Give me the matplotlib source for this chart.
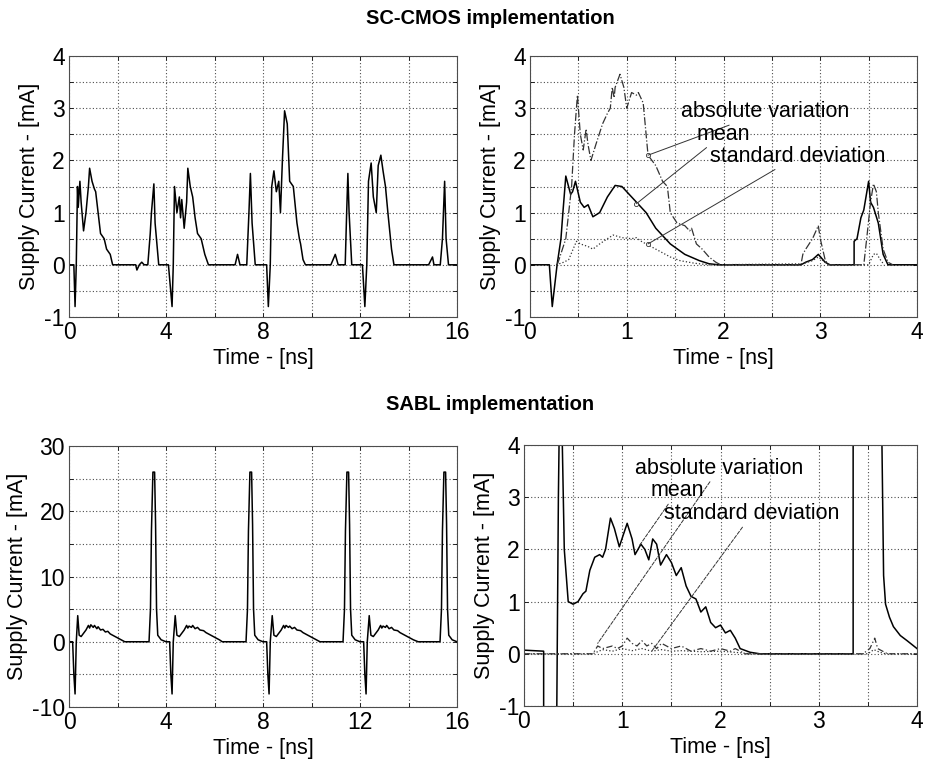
import matplotlib
matplotlib.use("Agg")
import matplotlib.pyplot as plt
from matplotlib.ticker import MultipleLocator

plt.rcParams["font.family"] = ["Liberation Sans", "DejaVu Sans"]
plt.rcParams["axes.unicode_minus"] = False

# --- SC-CMOS, 16 ns trace -------------------------------------------------
sc_t = [0.0, 0.2, 0.25, 0.3, 0.35, 0.38, 0.45, 0.5, 0.6, 0.7, 0.8, 0.85, 0.95, 1.05,
        1.1, 1.2, 1.3, 1.45, 1.55, 1.7, 1.8, 2.75, 2.8, 2.9, 3.0, 3.1, 3.25, 3.35,
        3.4, 3.5, 3.55, 3.7, 4.1, 4.25, 4.3, 4.35, 4.45, 4.55, 4.6, 4.65, 4.75, 4.85,
        4.9, 5.0, 5.1, 5.2, 5.3, 5.45, 5.6, 5.75, 6.85, 6.95, 7.05, 7.33, 7.42, 7.48,
        7.55, 7.68, 8.15, 8.22, 8.3, 8.36, 8.45, 8.55, 8.65, 8.72, 8.8, 8.89, 9.0,
        9.1, 9.25, 9.4, 9.5, 9.55, 9.65, 9.75, 10.8, 10.98, 11.1, 11.39, 11.45, 11.5,
        11.55, 11.66, 12.1, 12.2, 12.28, 12.35, 12.46, 12.55, 12.67, 12.75, 12.86,
        12.95, 13.05, 13.15, 13.3, 13.4, 14.83, 14.99, 15.05, 15.31, 15.4, 15.49,
        15.55, 15.65, 16.0]
sc_i = [0.0, 0.0, -0.8, 0.0, 1.5, 1.1, 1.6, 1.2, 0.65, 1.0, 1.5, 1.85, 1.6, 1.45,
        1.4, 1.0, 0.6, 0.5, 0.3, 0.2, 0.0, 0.0, -0.1, 0.0, 0.05, 0.0, 0.0, 0.6,
        1.0, 1.55, 0.8, 0.0, 0.0, -0.8, 0.0, 1.5, 1.0, 1.3, 0.9, 1.25, 0.7, 1.2,
        1.85, 1.5, 1.3, 0.9, 0.6, 0.5, 0.2, 0.0, 0.0, 0.2, 0.0, 0.0, 1.0, 1.75,
        0.8, 0.0, 0.0, -0.8, 0.0, 1.5, 1.8, 1.4, 1.6, 1.0, 2.0, 2.95, 2.7,
        1.6, 1.5, 0.8, 0.5, 0.4, 0.1, 0.0, 0.0, 0.2, 0.0, 0.0, 1.0, 1.75,
        1.0, 0.0, 0.0, -0.8, 0.0, 1.6, 1.95, 1.3, 1.0, 1.9, 2.1,
        1.8, 1.5, 1.0, 0.3, 0.0, 0.0, 0.15, 0.0, 0.0, 0.5, 1.6,
        0.5, 0.0, 0.0]

# --- SC-CMOS statistics, 4 ns ---------------------------------------------
sc_mean_t = [0.0, 0.2, 0.23, 0.28, 0.32, 0.34, 0.37, 0.42, 0.44, 0.47, 0.52, 0.56,
             0.6, 0.65, 0.72, 0.8, 0.88, 0.95, 1.05, 1.2, 1.3, 1.45, 1.6, 1.75,
             1.85, 1.95, 2.8, 2.85, 2.92, 2.98, 3.05, 3.1, 3.35, 3.35, 3.38, 3.42,
             3.45, 3.5, 3.52, 3.55, 3.6, 3.65, 3.7, 4.0]
sc_mean_i = [0.0, 0.0, -0.8, 0.0, 0.5, 1.0, 1.7, 1.35, 1.4, 1.6, 1.2, 1.1,
             1.15, 0.92, 1.0, 1.3, 1.52, 1.5, 1.3, 1.0, 0.7, 0.4, 0.2, 0.08,
             0.02, 0.0, 0.0, 0.05, 0.1, 0.2, 0.05, 0.0, 0.0, 0.45, 0.5, 0.9,
             1.05, 1.6, 1.2, 1.1, 0.8, 0.2, 0.0, 0.0]
sc_absvar_t = [0.28, 0.3, 0.37, 0.43, 0.46, 0.49, 0.52, 0.55, 0.58, 0.6, 0.63, 0.68,
               0.75, 0.8, 0.83, 0.85, 0.87, 0.88, 0.93, 0.97, 1.0, 1.05, 1.1, 1.12,
               1.17, 1.22, 1.3, 1.37, 1.42, 1.45, 1.52, 1.6, 1.65, 1.67, 1.72, 1.78,
               1.85, 1.92, 1.97, 2.8, 2.82, 2.85, 2.92, 2.98, 3.0, 3.05, 3.08, 3.45,
               3.48, 3.52, 3.55, 3.58, 3.6, 3.65, 3.7, 3.75]
sc_absvar_i = [0.0, 0.1, 0.5, 1.5, 2.5, 3.25, 2.5, 2.2, 2.6, 2.3, 2.0, 2.3,
               2.7, 2.9, 3.0, 3.4, 3.2, 3.4, 3.65, 3.4, 3.0, 3.3, 3.25, 3.3,
               3.1, 2.1, 1.9, 1.6, 1.5, 1.0, 0.8, 0.75, 0.65, 0.7, 0.4, 0.3,
               0.15, 0.05, 0.0, 0.0, 0.2, 0.3, 0.5, 0.75, 0.5, 0.1, 0.0, 0.0,
               0.5, 1.2, 1.55, 1.4, 1.0, 0.3, 0.05, 0.0]
sc_std_t = [0.27, 0.35, 0.4, 0.48, 0.52, 0.6, 0.65, 0.72, 0.8, 0.86, 0.95, 1.05,
            1.1, 1.15, 1.25, 1.35, 1.45, 1.55, 1.7, 1.85, 2.82, 2.92, 2.98, 3.05,
            3.1, 3.5, 3.55, 3.58, 3.62, 3.66]
sc_std_i = [0.0, 0.05, 0.1, 0.45, 0.4, 0.35, 0.3, 0.4, 0.5, 0.57, 0.52, 0.5,
            0.52, 0.45, 0.35, 0.25, 0.15, 0.08, 0.03, 0.0, 0.02, 0.08, 0.15, 0.05,
            0.0, 0.0, 0.2, 0.22, 0.1, 0.0]

# --- SABL, 16 ns trace ----------------------------------------------------
sabl_t = [0.0, 0.15, 0.2, 0.25, 0.3, 0.36, 0.42, 0.5, 0.6, 0.7, 0.8, 0.85, 0.9,
          1.0, 1.05, 1.15, 1.2, 1.3, 1.4, 1.5, 1.6, 1.7, 1.85, 2.0, 2.15, 2.3,
          3.3, 3.36, 3.4, 3.46, 3.53, 3.57, 3.61, 3.66, 3.8, 4.0,
          4.15, 4.2, 4.25, 4.3, 4.38, 4.45, 4.55, 4.65, 4.75, 4.85, 4.9, 4.95, 5.05,
          5.1, 5.2, 5.3, 5.4, 5.55, 5.65, 5.75, 5.9, 6.05, 6.2, 6.32,
          7.3, 7.36, 7.4, 7.46, 7.53, 7.57, 7.61, 7.66, 7.8, 8.0,
          8.15, 8.2, 8.25, 8.3, 8.38, 8.45, 8.55, 8.65, 8.75, 8.85, 8.9, 8.95, 9.05,
          9.1, 9.2, 9.3, 9.4, 9.55, 9.65, 9.75, 9.9, 10.05, 10.2, 10.35,
          11.3, 11.36, 11.4, 11.46, 11.53, 11.57, 11.61, 11.66, 11.8, 12.0,
          12.15, 12.2, 12.25, 12.3, 12.38, 12.45, 12.55, 12.65, 12.75, 12.85, 12.9,
          12.95, 13.05, 13.1, 13.2, 13.3, 13.4, 13.55, 13.65, 13.75, 13.9, 14.05,
          14.2, 14.4, 15.3, 15.36, 15.4, 15.46, 15.53, 15.57, 15.61, 15.66, 15.8, 16.0]
sabl_i = [0.0, 0.0, -5.0, -8.0, 0.0, 4.0, 1.0, 0.8, 1.3, 1.8, 2.5, 2.1, 2.6,
          2.2, 2.5, 2.0, 2.3, 1.8, 1.9, 1.5, 1.6, 1.2, 0.9, 0.6, 0.3, 0.0,
          0.0, 5.0, 17.0, 26.0, 26.0, 18.0, 5.0, 1.0, 0.3, 0.0,
          0.0, -5.0, -8.0, 0.0, 4.0, 1.0, 0.8, 1.3, 1.8, 2.5, 2.1, 2.4, 2.2,
          2.5, 2.0, 2.2, 1.8, 1.7, 1.4, 1.2, 0.9, 0.6, 0.3, 0.0,
          0.0, 5.0, 17.0, 26.0, 26.0, 18.0, 5.0, 1.0, 0.3, 0.0,
          0.0, -5.0, -8.0, 0.0, 4.0, 1.0, 0.8, 1.3, 1.8, 2.5, 2.1, 2.5, 2.2,
          2.4, 2.0, 2.2, 1.8, 1.7, 1.4, 1.2, 0.9, 0.6, 0.3, 0.0,
          0.0, 5.0, 17.0, 26.0, 26.0, 18.0, 5.0, 1.0, 0.3, 0.0,
          0.0, -5.0, -8.0, 0.0, 4.0, 1.0, 0.8, 1.3, 1.8, 2.5, 2.1,
          2.4, 2.2, 2.5, 2.0, 2.2, 1.8, 1.7, 1.4, 1.2, 0.9, 0.6,
          0.3, 0.0, 0.0, 5.0, 17.0, 26.0, 26.0, 18.0, 5.0, 1.0, 0.3, 0.0]

# --- SABL statistics, 4 ns ------------------------------------------------
sabl_mean_t = [0.0, 0.2, 0.2, 0.33, 0.35, 0.37, 0.41, 0.45, 0.5, 0.55, 0.6, 0.63,
               0.67, 0.72, 0.77, 0.8, 0.83, 0.88, 0.92, 0.97, 1.05, 1.1, 1.13, 1.19,
               1.23, 1.27, 1.31, 1.35, 1.39, 1.45, 1.5, 1.55, 1.6, 1.65, 1.7, 1.75,
               1.8, 1.85, 1.9, 1.95, 2.0, 2.05, 2.1, 2.15, 2.2, 2.3, 2.4, 3.35,
               3.35, 3.63, 3.66, 3.68, 3.72, 3.76, 3.83, 3.9, 4.0]
sabl_mean_i = [0.07, 0.05, -2.0, -2.0, 3.0, 6.0, 2.0, 1.0, 0.95, 1.0, 1.15, 1.2,
               1.6, 1.85, 1.9, 1.85, 2.0, 2.6, 2.4, 2.05, 2.5, 2.2, 1.9, 2.1,
               2.0, 1.8, 2.2, 2.1, 1.7, 1.9, 1.75, 1.5, 1.65, 1.3, 1.1, 1.05,
               0.8, 0.9, 0.6, 0.5, 0.55, 0.4, 0.45, 0.3, 0.1, 0.03, 0.0, 0.0,
               6.0, 6.0, 1.5, 0.95, 0.7, 0.52, 0.35, 0.25, 0.1]
sabl_absvar_t = [0.0, 0.7, 0.75, 0.8, 0.9, 0.95, 1.0, 1.05, 1.1, 1.15, 1.2, 1.25,
                 1.3, 1.35, 1.4, 1.5, 1.6, 1.7, 1.8, 1.9, 2.0, 2.1, 2.15, 2.25,
                 3.45, 3.52, 3.57, 3.6, 3.65, 3.7, 4.0]
sabl_absvar_i = [0.0, 0.0, 0.15, 0.1, 0.15, 0.1, 0.15, 0.3, 0.2, 0.15, 0.25, 0.15,
                 0.2, 0.1, 0.2, 0.1, 0.15, 0.05, 0.1, 0.05, 0.1, 0.05, 0.1, 0.0,
                 0.0, 0.1, 0.3, 0.1, 0.05, 0.0, 0.0]
sabl_std_t = [0.0, 0.7, 0.8, 0.9, 1.0, 1.1, 1.2, 1.3, 1.4, 1.5, 1.6, 1.8, 2.0,
              2.2, 2.3, 3.5, 3.56, 3.62, 3.68, 4.0]
sabl_std_i = [0.0, 0.0, 0.08, 0.05, 0.1, 0.06, 0.1, 0.05, 0.08, 0.05, 0.06, 0.04, 0.05,
              0.02, 0.0, 0.0, 0.08, 0.03, 0.0, 0.0]

GRID = dict(color="0.3", linestyle=(0, (1, 2)), linewidth=0.8)
TICK_FS = 16.5
LABEL_FS = 15.5
NOTE_FS = 15.5


def style_axes(ax, xlim, ylim, xmajor, xminor, ymajor, yminor):
    ax.set_xlim(*xlim)
    ax.set_ylim(*ylim)
    ax.xaxis.set_major_locator(MultipleLocator(xmajor))
    ax.xaxis.set_minor_locator(MultipleLocator(xminor))
    ax.yaxis.set_major_locator(MultipleLocator(ymajor))
    ax.yaxis.set_minor_locator(MultipleLocator(yminor))
    ax.grid(True, which="both", **GRID)
    ax.tick_params(which="both", direction="in", top=True, right=True,
                   labelsize=TICK_FS, length=3, width=0.6, pad=3)
    for s in ax.spines.values():
        s.set_linewidth(0.8)
        s.set_color("0.3")
    ax.set_xlabel("Time - [ns]", fontsize=LABEL_FS, labelpad=3)
    ax.set_ylabel("Supply Current - [mA]", fontsize=LABEL_FS, labelpad=3)


def add_labels(ax, items):
    for text, xy, xytext in items:
        ax.annotate(text, xy=xy, xytext=xytext, fontsize=NOTE_FS, va="center", ha="left",
                    arrowprops=dict(arrowstyle="-", lw=0.7, color="0.2",
                                    shrinkA=0, shrinkB=0))
        ax.plot(*xy, marker="o", ms=3, mfc="white", mec="0.2", mew=0.6)


W, H = 931, 768
fig = plt.figure(figsize=(W / 100, H / 100), dpi=100)


def box(l, t, r, b):
    return [l / W, 1 - b / H, (r - l) / W, (b - t) / H]


ax1 = fig.add_axes(box(69, 56, 457, 317))
ax2 = fig.add_axes(box(530, 56, 917, 317))
ax3 = fig.add_axes(box(69, 446, 457, 707))
ax4 = fig.add_axes(box(524, 445, 917, 706))

ax1.plot(sc_t, sc_i, color="black", lw=1.1)
style_axes(ax1, (0, 16), (-1, 4), 4, 2, 1, 0.5)

ax2.plot(sc_mean_t, sc_mean_i, color="black", lw=1.1)
ax2.plot(sc_absvar_t, sc_absvar_i, color="0.2", lw=0.9, linestyle="-.")
ax2.plot(sc_std_t, sc_std_i, color="0.2", lw=0.9, linestyle=":")
style_axes(ax2, (0, 4), (-1, 4), 1, 0.5, 1, 0.5)
add_labels(ax2, [("absolute variation", (1.22, 2.1), (1.56, 2.93)),
                 ("mean", (1.1, 1.17), (1.72, 2.5)),
                 ("standard deviation", (1.22, 0.4), (1.86, 2.08))])

ax3.plot(sabl_t, sabl_i, color="black", lw=1.1)
style_axes(ax3, (0, 16), (-10, 30), 4, 2, 10, 5)

ax4.plot(sabl_mean_t, sabl_mean_i, color="black", lw=1.1)
ax4.plot(sabl_absvar_t, sabl_absvar_i, color="0.2", lw=0.9, linestyle=(0, (5, 2, 1, 2)))
ax4.plot(sabl_std_t, sabl_std_i, color="0.2", lw=0.9, linestyle=":")
style_axes(ax4, (0, 4), (-1, 4), 1, 0.5, 1, 1)
for text, xy, xytext in [("absolute variation", (0.75, 0.2), (1.13, 3.55)),
                         ("mean", (1.17, 2.06), (1.29, 3.12)),
                         ("standard deviation", (1.3, 0.05), (1.43, 2.68))]:
    ax4.annotate(text, xy=xy, xytext=xytext, fontsize=NOTE_FS, va="center", ha="left",
                 arrowprops=dict(arrowstyle="-", lw=0.7, color="0.2", linestyle="--",
                                 shrinkA=0, shrinkB=0))

fig.text(490 / W, 1 - 18 / H, "SC-CMOS implementation", ha="center", va="center",
         fontsize=14.5, fontweight="bold")
fig.text(490 / W, 1 - 405 / H, "SABL implementation", ha="center", va="center",
         fontsize=14.5, fontweight="bold")

fig.savefig("out.png", dpi=100)
